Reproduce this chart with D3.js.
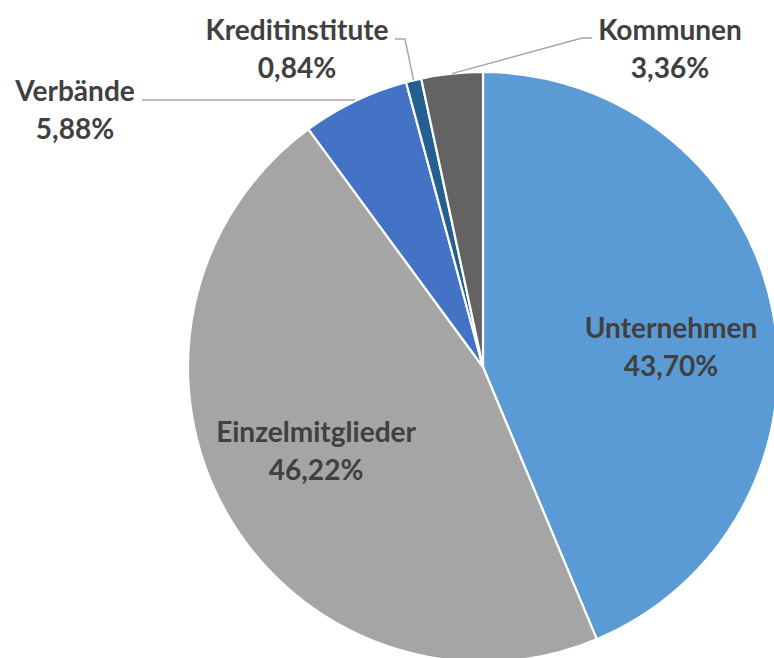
<!DOCTYPE html>
<html><head><meta charset="utf-8">
<script src="https://cdn.jsdelivr.net/npm/d3@7"></script>
<style>body{margin:0;background:#fff}svg{display:block}</style>
</head><body>
<svg id="c" width="774" height="658"></svg>
<script>
const categories = ["Unternehmen","Einzelmitglieder","Verbände","Kreditinstitute","Kommunen"];
const values = [43.70, 46.22, 5.88, 0.84, 3.36];
const labels = ["43,70%","46,22%","5,88%","0,84%","3,36%"];
const colors = ["#5B9BD5","#A5A5A5","#4472C4","#255E91","#636363"];

const W = 774, H = 658, cx = 483, cy = 367, R = 295;
const svg = d3.select("#c");
const g = svg.append("g").attr("transform", `translate(${cx},${cy})`);

const pie = d3.pie().sort(null).value(d => d.v);
const data = pie(categories.map((c,i)=>({c, v: values[i], l: labels[i], col: colors[i]})));
const arc = d3.arc().innerRadius(0).outerRadius(R);

g.selectAll("path.slice").data(data).join("path")
  .attr("class","slice")
  .attr("d", arc)
  .attr("fill", d => d.data.col)
  .attr("stroke", "#fff").attr("stroke-width", 2.2).attr("stroke-linejoin","round");

// font sizing: fit "Einzelmitglieder" to reference width
const fontFam = "Lato, 'Open Sans', sans-serif";
const probe = svg.append("text").attr("font-family", fontFam).attr("font-weight", 700)
  .attr("font-size", 28).text("Einzelmitglieder");
const len = probe.node().getComputedTextLength();
probe.remove();
const fs = 28 * 200 / len;
const lh = 37.5;

const textCol = "#404040";
function label(x, y, d) {
  const t = svg.append("text").attr("font-family", fontFam).attr("font-weight", 700)
    .attr("font-size", fs).attr("fill", textCol).attr("text-anchor","middle");
  t.append("tspan").attr("x", x).attr("y", y).text(d.data.c);
  t.append("tspan").attr("x", x).attr("y", y + lh).text(d.data.l);
  return t;
}

// inside labels (large slices)
const inArc = d3.arc().innerRadius(R*0.62).outerRadius(R*0.68);
const insideOffsets = {"Unternehmen": [0, 9], "Einzelmitglieder": [0, -19]};
data.filter(d => insideOffsets[d.data.c]).forEach(d => {
  const [x, y] = inArc.centroid(d);
  const o = insideOffsets[d.data.c];
  label(cx + x + o[0], cy + y + o[1], d);
});

// outside labels with leader lines
const outside = {
  "Verbände":        {tx: 75,  ty: 101, lineFrom: [142, 100], elbow: null},
  "Kreditinstitute": {tx: 297, ty: 40,  lineFrom: [395, 39],  elbow: [405, 39]},
  "Kommunen":        {tx: 670, ty: 40,  lineFrom: [592, 38],  elbow: [582, 38]}
};
data.filter(d => outside[d.data.c]).forEach(d => {
  const o = outside[d.data.c];
  const mid = (d.startAngle + d.endAngle) / 2;
  const ex = cx + R * Math.sin(mid), ey = cy - R * Math.cos(mid);
  const pts = [o.lineFrom];
  if (o.elbow) pts.push(o.elbow);
  pts.push([ex, o.elbow ? ey : o.lineFrom[1]]);
  svg.append("path").attr("d", d3.line()(pts))
    .attr("fill","none").attr("stroke","#A6A6A6").attr("stroke-width",1.5);
  label(o.tx, o.ty, d);
});
</script>
</body></html>
